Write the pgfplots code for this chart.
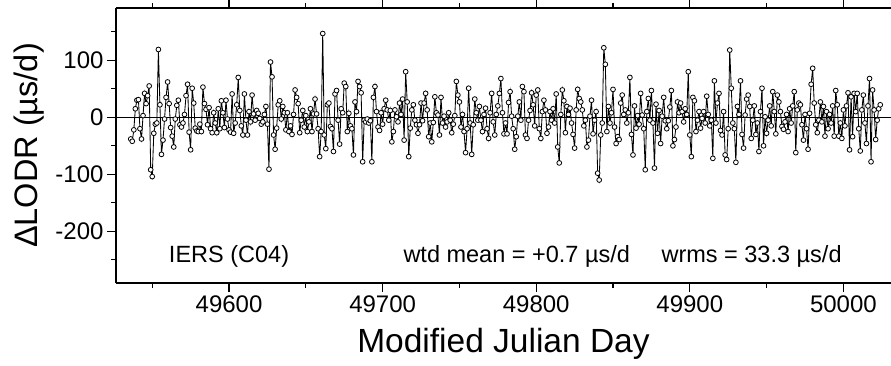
\documentclass[border=0pt]{standalone}
\usepackage{fontspec}
\setmainfont{Liberation Sans}
\usepackage{pgfplots}
\pgfplotsset{compat=1.18}
\begin{document}
\begin{tikzpicture}
\begin{axis}[name=ax, scale only axis, width=775bp, height=275bp,
  xmin=49526.4, xmax=50031, ymin=-290.7, ymax=191.8,
  axis x line=box, axis y line*=left, axis line style={-, line width=1.4bp},
  xtick={49600,49700,...,50000}, minor xtick={49550,49650,...,50050},
  ytick={-200,-100,0,100}, minor ytick={-250,-150,-50,50,150},
  tick align=outside, major tick length=9bp, minor tick length=5bp,
  every tick/.style={black, line width=1.1bp},
  scaled x ticks=false, scaled y ticks=false,
  /pgf/number format/assume math mode=true,
  /pgf/number format/1000 sep={},
  tick label style={font=\fontsize{24bp}{27bp}\selectfont},
  xlabel={Modified Julian Day},
  ylabel={ΔLODR (µs/d)},
  xlabel style={font=\fontsize{33.5bp}{38bp}\selectfont, at={([yshift=-69bp]rel axis cs:0.5,0)}, anchor=base},
  ylabel style={font=\fontsize{32.5bp}{36bp}\selectfont, at={([xshift=-87bp]rel axis cs:0,0.5)}, anchor=center},
]
\addplot[black, line width=1.4bp, forget plot] coordinates {(49526.4,0) (50031,0)};
\addplot[black, line width=0.85bp, mark=*, mark size=2.4bp, mark options={fill=white, draw=black, line width=0.8bp}] coordinates {
(49536,-38) (49537,-42) (49538,-22) (49539,15) (49540,30) (49541,31) (49542,-20) (49543,-38) (49544,3) (49545,42)
(49546,24) (49547,38) (49548,55) (49549,-92) (49550,-104) (49551,-28) (49552,-12) (49553,-10) (49554,119) (49555,22)
(49556,-65) (49557,-40) (49558,-3) (49559,35) (49560,62) (49561,24) (49562,-18) (49563,-33) (49564,-52) (49565,-3)
(49566,21) (49567,30) (49568,-13) (49569,-17) (49570,-10) (49571,5) (49572,38) (49573,58) (49574,-26) (49575,-57)
(49576,51) (49577,25) (49578,-19) (49579,-24) (49580,-25) (49581,-12) (49582,-25) (49583,53) (49584,24) (49585,14)
(49586,-13) (49587,17) (49588,-20) (49589,-27) (49590,8) (49591,-10) (49592,-27) (49593,15) (49594,-20) (49595,29)
(49596,8) (49597,-18) (49598,30) (49599,-3) (49600,-22) (49601,-26) (49602,41) (49603,-28) (49604,-10) (49605,22)
(49606,70) (49607,12) (49608,-15) (49609,-31) (49610,41) (49611,-5) (49612,-31) (49613,10) (49614,-8) (49615,39)
(49616,6) (49617,-5) (49618,12) (49619,7) (49620,-2) (49621,-12) (49622,-8) (49623,5) (49624,19) (49625,-12)
(49626,-91) (49627,97) (49628,71) (49629,-31) (49630,-56) (49631,-19) (49632,22) (49633,29) (49634,-3) (49635,19)
(49636,8) (49637,-22) (49638,8) (49639,-25) (49640,-15) (49641,-30) (49642,5) (49643,48) (49644,35) (49645,24)
(49646,-27) (49647,-5) (49648,12) (49649,-17) (49650,3) (49651,-25) (49652,-8) (49653,15) (49654,-25) (49655,6)
(49656,32) (49657,6) (49658,-20) (49659,-69) (49660,-25) (49661,147) (49662,-31) (49663,-55) (49664,22) (49665,25)
(49666,-16) (49667,-20) (49668,-60) (49669,41) (49670,47) (49671,-5) (49672,-47) (49673,15) (49674,8) (49675,60)
(49676,54) (49677,-25) (49678,7) (49679,-15) (49680,-20) (49681,-66) (49682,27) (49683,10) (49684,63) (49685,54)
(49686,43) (49687,-78) (49688,-5) (49689,-8) (49690,-3) (49691,-10) (49692,-6) (49693,-78) (49694,35) (49695,54)
(49696,10) (49697,-17) (49698,-23) (49699,8) (49700,-12) (49701,15) (49702,30) (49703,13) (49704,-5) (49705,12)
(49706,-43) (49707,-25) (49708,13) (49709,1) (49710,-8) (49711,25) (49712,5) (49713,32) (49714,-40) (49715,80)
(49716,27) (49717,-69) (49718,-19) (49719,13) (49720,22) (49721,-5) (49722,-13) (49723,-28) (49724,-13) (49725,25)
(49726,-6) (49727,25) (49728,42) (49729,13) (49730,-34) (49731,-10) (49732,-43) (49733,-9) (49734,36) (49735,8)
(49736,4) (49737,-31) (49738,35) (49739,-10) (49740,2) (49741,-17) (49742,-8) (49743,8) (49744,-5) (49745,-27)
(49746,-12) (49747,3) (49748,63) (49749,39) (49750,27) (49751,-17) (49752,5) (49753,-25) (49754,-62) (49755,-20)
(49756,51) (49757,-10) (49758,-65) (49759,-13) (49760,32) (49761,8) (49762,-5) (49763,19) (49764,-5) (49765,-25)
(49766,5) (49767,16) (49768,-20) (49769,-37) (49770,8) (49771,42) (49772,-8) (49773,-31) (49774,5) (49775,20)
(49776,42) (49777,68) (49778,8) (49779,-29) (49780,-10) (49781,-29) (49782,26) (49783,45) (49784,2) (49785,-20)
(49786,-56) (49787,-34) (49788,2) (49789,27) (49790,-5) (49791,54) (49792,45) (49793,-31) (49794,-37) (49795,-5)
(49796,12) (49797,43) (49798,22) (49799,-15) (49800,39) (49801,48) (49802,-20) (49803,-37) (49804,10) (49805,30)
(49806,13) (49807,-28) (49808,-17) (49809,10) (49810,-5) (49811,15) (49812,-10) (49813,41) (49814,-52) (49815,-80)
(49816,5) (49817,48) (49818,29) (49819,-27) (49820,19) (49821,5) (49822,16) (49823,-10) (49824,-30) (49825,-54)
(49826,13) (49827,49) (49828,33) (49829,27) (49830,13) (49831,-15) (49832,-5) (49833,-52) (49834,-40) (49835,2)
(49836,30) (49837,-29) (49838,-5) (49839,10) (49840,-98) (49841,-110) (49842,-31) (49843,-10) (49844,122) (49845,93)
(49846,-25) (49847,19) (49848,-10) (49849,8) (49850,49) (49851,-17) (49852,-46) (49853,-34) (49854,-39) (49855,25)
(49856,39) (49857,5) (49858,13) (49859,-10) (49860,8) (49861,70) (49862,-30) (49863,-66) (49864,20) (49865,-19)
(49866,3) (49867,-12) (49868,42) (49869,4) (49870,-20) (49871,-92) (49872,10) (49873,33) (49874,-5) (49875,47)
(49876,-10) (49877,-89) (49878,23) (49879,-28) (49880,12) (49881,-46) (49882,2) (49883,35) (49884,-6) (49885,-20)
(49886,-6) (49887,18) (49888,47) (49889,-50) (49890,-39) (49891,-17) (49892,27) (49893,8) (49894,25) (49895,10)
(49896,-8) (49897,15) (49898,5) (49899,80) (49900,-31) (49901,-69) (49902,35) (49903,29) (49904,-25) (49905,-5)
(49906,10) (49907,-19) (49908,-2) (49909,10) (49910,-10) (49911,37) (49912,5) (49913,-15) (49914,-5) (49915,-72)
(49916,64) (49917,-10) (49918,25) (49919,42) (49920,-23) (49921,-31) (49922,10) (49923,-66) (49924,-74) (49925,-20)
(49926,118) (49927,51) (49928,-10) (49929,-20) (49930,-79) (49931,19) (49932,5) (49933,64) (49934,-30) (49935,-54)
(49936,4) (49937,32) (49938,39) (49939,19) (49940,-37) (49941,-5) (49942,20) (49943,-30) (49944,-10) (49945,-60)
(49946,10) (49947,51) (49948,-50) (49949,1) (49950,-28) (49951,-5) (49952,20) (49953,-15) (49954,45) (49955,10)
(49956,-29) (49957,39) (49958,27) (49959,10) (49960,-16) (49961,-21) (49962,-8) (49963,5) (49964,-25) (49965,15)
(49966,-10) (49967,20) (49968,45) (49969,-62) (49970,13) (49971,25) (49972,22) (49973,-13) (49974,-40) (49975,5)
(49976,-20) (49977,-56) (49978,7) (49979,58) (49980,86) (49981,25) (49982,-13) (49983,-27) (49984,-5) (49985,27)
(49986,-8) (49987,19) (49988,-33) (49989,10) (49990,-20) (49991,5) (49992,-10) (49993,20) (49994,-33) (49995,47)
(49996,22) (49997,-33) (49998,-10) (49999,-37) (50000,13) (50001,-15) (50002,20) (50003,43) (50004,-57) (50005,36)
(50006,-34) (50007,42) (50008,10) (50009,42) (50010,-20) (50011,-59) (50012,13) (50013,39) (50014,-10) (50015,-46)
(50016,20) (50017,68) (50018,-78) (50019,48) (50020,13) (50021,-39) (50022,-5) (50023,15) (50024,22)
};
\node[anchor=base, font=\fontsize{23.5bp}{26bp}\selectfont] at (axis cs:49600,-255.6) {IERS (C04)};
\node[anchor=base west, font=\fontsize{23.5bp}{26bp}\selectfont] at (axis cs:49711.3,-255.6) {wtd mean = +0.7 µs/d};
\node[anchor=base west, font=\fontsize{23.5bp}{26bp}\selectfont] at (axis cs:49879.3,-255.6) {wrms = 33.3 µs/d};
\end{axis}
\pgfresetboundingbox
\path[use as bounding box] ([xshift=-116bp,yshift=8bp]ax.north west) rectangle ([yshift=-83bp]ax.south east);
\end{tikzpicture}
\end{document}
